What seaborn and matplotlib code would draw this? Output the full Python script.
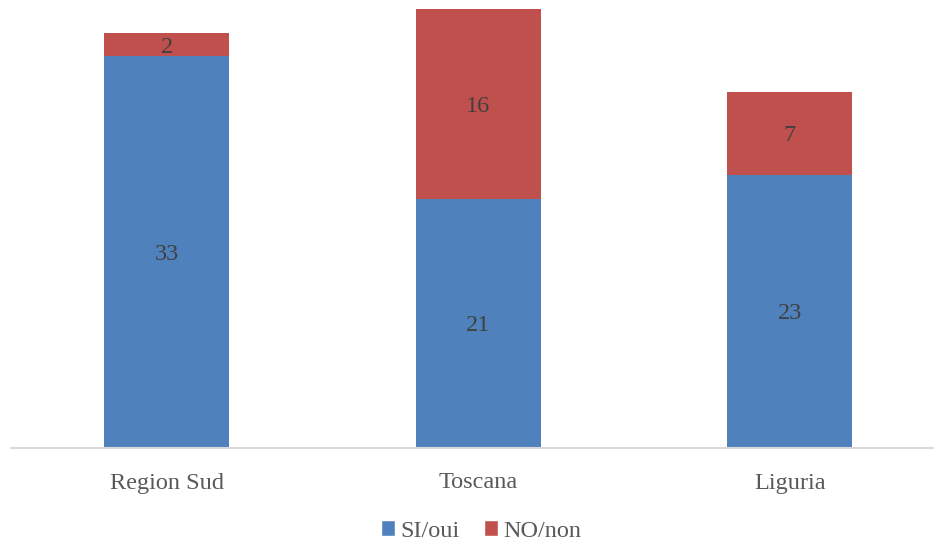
import matplotlib
matplotlib.use("Agg")
import matplotlib.pyplot as plt
import seaborn as sns
import pandas as pd
from matplotlib.patches import Patch

categories = ["Region Sud", "Toscana", "Liguria"]
si_values = [33, 21, 23]
no_values = [2, 16, 7]
series_names = ["SI/oui", "NO/non"]

BLUE = "#4F81BD"
RED = "#C0504D"

sns.set_theme(style="white")
plt.rcParams["font.family"] = ["Liberation Serif", "DejaVu Serif"]

df = pd.DataFrame({"cat": categories, "si": si_values, "no": no_values})
df["total"] = df["si"] + df["no"]

fig = plt.figure(figsize=(9.34, 5.44), dpi=100)
ax = fig.add_axes([11 / 934, (544 - 447.5) / 544, 1 - 11 / 934, (447.5 - 9) / 544])

sns.barplot(data=df, x="cat", y="total", color=RED, width=0.4, saturation=1, linewidth=0, ax=ax)
sns.barplot(data=df, x="cat", y="si", color=BLUE, width=0.4, saturation=1, linewidth=0, ax=ax)

ax.set_ylim(0, 37)
ax.set_xlim(-0.5, -0.5 + 923 / 311.5)
ax.set_xlabel("")
ax.set_ylabel("")
ax.set_yticks([])
for s in ["top", "right", "left"]:
    ax.spines[s].set_visible(False)
ax.spines["bottom"].set_color("#D9D9D9")
ax.spines["bottom"].set_linewidth(1.5)
ax.tick_params(axis="x", length=0, pad=18, labelsize=17.5, labelcolor="#595959")

for i, (s, n) in enumerate(zip(si_values, no_values)):
    ax.text(i, s / 2, str(s), ha="center", va="center_baseline", fontsize=17.5, color="#404040")
    ax.text(i, s + n / 2, str(n), ha="center", va="center_baseline", fontsize=17.5, color="#404040")

handles = [Patch(facecolor=BLUE, label=series_names[0]), Patch(facecolor=RED, label=series_names[1])]
fig.legend(handles=handles, loc="center", bbox_to_anchor=(0.5 + 14 / 934, 1 - 531 / 544), ncol=2,
           frameon=False, fontsize=17.5, labelcolor="#595959", handlelength=0.6, handleheight=0.6,
           handletextpad=0.2, columnspacing=1.0)

fig.savefig("out.png", dpi=100)
